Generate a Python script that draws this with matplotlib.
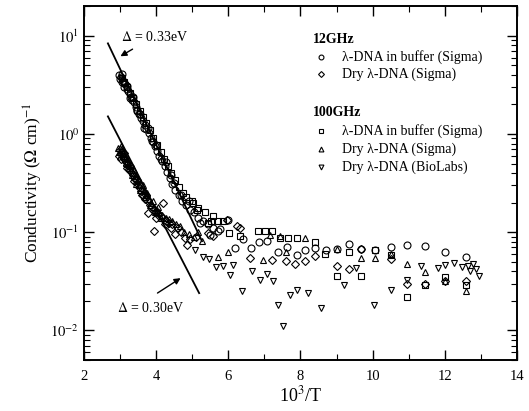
import matplotlib
matplotlib.use('Agg')
import matplotlib.pyplot as plt

plt.rcParams['font.family'] = ['Liberation Serif', 'DejaVu Serif']
plt.rcParams['mathtext.fontset'] = 'stix'

# 12GHz, lambda-DNA in buffer (Sigma) - circles
buf12_x = [2.98, 3.02, 3.05, 3.08, 3.11, 3.14, 3.18, 3.22, 3.26, 3.30, 3.34, 3.38,
           3.43, 3.48, 3.53, 3.58, 3.63, 3.68, 3.73, 3.79, 3.85, 3.91, 3.97, 4.03,
           4.09, 4.16, 4.23, 4.30, 4.37, 4.45, 4.53, 4.62, 4.72, 4.82, 4.94, 5.04,
           5.16, 5.21, 5.29, 5.43, 5.49, 5.57, 5.72, 5.77, 6.00, 6.18, 6.40, 6.64,
           6.85, 7.06, 7.38, 7.62, 7.89, 8.12, 8.40, 8.70, 9.00, 9.34, 9.69, 10.08,
           10.50, 10.96, 11.45, 12.00, 12.60,
           3.00, 3.06, 3.12, 3.20, 3.28, 3.36, 3.46, 3.56, 3.66, 3.76, 3.88, 4.00,
           4.13, 4.26, 4.40, 4.50, 4.70, 4.90]
buf12_y = [4.0, 3.8, 4.1, 3.5, 3.3, 3.2, 2.9, 2.75, 2.55, 2.4, 2.2, 2.1,
           1.9, 1.75, 1.6, 1.45, 1.35, 1.22, 1.12, 1.02, 0.92, 0.83, 0.75, 0.67,
           0.60, 0.53, 0.47, 0.41, 0.36, 0.31, 0.27, 0.24, 0.21, 0.19, 0.17, 0.16,
           0.14, 0.123, 0.13, 0.12, 0.093, 0.11, 0.103, 0.108, 0.134, 0.069, 0.085, 0.069,
           0.08, 0.081, 0.063, 0.07, 0.059, 0.066, 0.069, 0.066, 0.067, 0.076, 0.068, 0.066,
           0.070, 0.074, 0.072, 0.063, 0.056,
           3.6, 3.4, 3.0, 3.1, 2.3, 2.4, 1.7, 1.6, 1.15, 1.15, 0.85, 0.78,
           0.55, 0.52, 0.38, 0.32, 0.24, 0.21]

# 12GHz, dry lambda-DNA (Sigma) - diamonds
dry12_x = [2.97, 3.00, 3.04, 3.08, 3.12, 3.16, 3.20, 3.25, 3.30, 3.35, 3.40, 3.46,
           3.52, 3.58, 3.64, 3.70, 3.77, 3.78, 3.84, 3.91, 3.94, 3.98, 4.05, 4.12,
           4.19, 4.20, 4.27, 4.35, 4.43, 4.52, 4.60, 4.70, 4.80, 4.84, 4.95, 5.10,
           5.44, 5.58, 5.95, 6.23, 6.32, 6.60, 7.20, 7.61, 7.84, 8.12, 8.40, 9.00,
           9.34, 9.69, 10.50, 10.96, 11.45, 12.02, 12.60,
           3.02, 3.10, 3.18, 3.27, 3.37, 3.48, 3.60, 3.72, 3.88, 4.00, 4.24, 4.40]
dry12_y = [0.60, 0.68, 0.62, 0.58, 0.55, 0.52, 0.48, 0.44, 0.41, 0.38, 0.35, 0.32,
           0.29, 0.26, 0.24, 0.22, 0.21, 0.157, 0.19, 0.17, 0.102, 0.16, 0.15, 0.145,
           0.20, 0.14, 0.13, 0.125, 0.12, 0.095, 0.11, 0.10, 0.087, 0.074, 0.085, 0.09,
           0.099, 0.091, 0.134, 0.115, 0.11, 0.055, 0.052, 0.051, 0.048, 0.051, 0.057, 0.045,
           0.042, 0.068, 0.053, 0.030, 0.030, 0.032, 0.032,
           0.55, 0.64, 0.45, 0.47, 0.33, 0.34, 0.24, 0.24, 0.18, 0.14, 0.12, 0.11]

# 100GHz, lambda-DNA in buffer (Sigma) - squares
buf100_x = [3.06, 3.12, 3.20, 3.28, 3.36, 3.45, 3.54, 3.63, 3.72, 3.82, 3.92, 4.02,
            4.12, 4.22, 4.32, 4.42, 4.52, 4.62, 4.75, 4.83, 4.98, 5.02, 5.12, 5.16,
            5.34, 5.43, 5.53, 5.57, 5.71, 5.86, 6.03, 6.32, 6.83, 7.01, 7.20, 7.43,
            7.66, 7.89, 8.40, 8.68, 9.02, 9.34, 9.69, 10.08, 10.50, 10.96, 11.45, 12.02,
            12.60]
buf100_y = [3.7, 3.4, 3.0, 2.6, 2.3, 2.0, 1.7, 1.5, 1.3, 1.1, 0.92, 0.78,
            0.66, 0.56, 0.47, 0.40, 0.34, 0.29, 0.25, 0.23, 0.21, 0.20, 0.17, 0.175,
            0.16, 0.123, 0.129, 0.145, 0.13, 0.129, 0.099, 0.091, 0.103, 0.103, 0.103, 0.087,
            0.087, 0.087, 0.079, 0.06, 0.036, 0.063, 0.036, 0.066, 0.059, 0.022, 0.029, 0.035,
            0.029]

# 100GHz, dry lambda-DNA (Sigma) - up triangles
dry100_x = [2.95, 2.98, 3.01, 3.04, 3.07, 3.10, 3.14, 3.18, 3.22, 3.26, 3.31, 3.36,
            3.41, 3.47, 3.53, 3.59, 3.65, 3.72, 3.79, 3.86, 3.93, 4.01, 4.09, 4.17,
            4.26, 4.35, 4.45, 4.55, 4.66, 4.78, 4.92, 5.06, 5.17, 5.26, 5.72, 6.00,
            6.97, 7.15, 7.43, 7.61, 8.12, 9.00, 9.69, 10.08, 10.50, 10.96, 11.45, 12.02,
            12.60,
            3.03, 3.06, 3.12, 3.16, 3.20, 3.24, 3.29, 3.33, 3.38, 3.44, 3.50, 3.56,
            3.62, 3.68, 3.75, 3.82, 3.90, 3.97, 4.05, 4.13]
dry100_y = [0.72, 0.66, 0.75, 0.69, 0.64, 0.60, 0.57, 0.53, 0.50, 0.47, 0.43, 0.40,
            0.37, 0.33, 0.30, 0.28, 0.26, 0.24, 0.22, 0.20, 0.18, 0.17, 0.16, 0.15,
            0.14, 0.135, 0.13, 0.12, 0.115, 0.10, 0.095, 0.09, 0.10, 0.081, 0.056, 0.063,
            0.052, 0.094, 0.091, 0.063, 0.087, 0.067, 0.055, 0.055, 0.060, 0.048, 0.039, 0.032,
            0.025,
            0.62, 0.72, 0.62, 0.51, 0.56, 0.45, 0.48, 0.38, 0.43, 0.31, 0.35, 0.27,
            0.30, 0.23, 0.25, 0.19, 0.21, 0.16, 0.18, 0.14]

# 100GHz, dry lambda-DNA (BioLabs) - down triangles
bio100_x = [5.07, 5.30, 5.46, 5.67, 5.86, 6.04, 6.14, 6.37, 6.65, 6.88, 7.06, 7.24,
            7.38, 7.52, 7.71, 7.89, 8.21, 8.58, 9.21, 9.55, 10.04, 10.52, 10.96, 11.34,
            11.81, 12.00, 12.25, 12.49, 12.65, 12.70, 12.78, 12.87, 12.94]
bio100_y = [0.066, 0.056, 0.054, 0.044, 0.045, 0.037, 0.046, 0.025, 0.040, 0.033, 0.038, 0.032,
            0.018, 0.011, 0.023, 0.026, 0.024, 0.017, 0.029, 0.043, 0.018, 0.026, 0.033, 0.045,
            0.043, 0.046, 0.049, 0.044, 0.045, 0.040, 0.047, 0.042, 0.036]

# activation fits (end points)
fit33_x = [2.66, 5.27]
fit33_y = [8.36, 0.081]
fit30_x = [2.66, 5.19]
fit30_y = [1.51, 0.024]

fig = plt.figure(figsize=(5.29, 4.11), dpi=100)
ax = fig.add_axes([0.159, 0.124, 0.818, 0.861])

mk = dict(linestyle='none', mfc='none', mec='black', mew=0.8, ms=5)
ax.plot(buf12_x, buf12_y, marker='o', **mk)
ax.plot(dry12_x, dry12_y, marker='D', **dict(mk, ms=4.2))
ax.plot(buf100_x, buf100_y, marker='s', **dict(mk, ms=4.5))
ax.plot(dry100_x, dry100_y, marker='^', **mk)
ax.plot(bio100_x, bio100_y, marker='v', **mk)

ax.plot(fit33_x, fit33_y, color='black', lw=1.3)
ax.plot(fit30_x, fit30_y, color='black', lw=1.3)

arrow = dict(arrowstyle='-|>', color='black', lw=1.0, mutation_scale=9)
ax.annotate('', xy=(2.94, 5.98), xytext=(3.41, 7.55), arrowprops=arrow)
ax.annotate('', xy=(4.74, 0.0353), xytext=(3.97, 0.0232), arrowprops=arrow)
ax.text(3.02, 9.8, r'$\Delta$ = 0.33eV', fontsize=10, va='center')
ax.text(2.91, 0.0171, r'$\Delta$ = 0.30eV', fontsize=10, va='center')

ax.set_yscale('log')
ax.set_xlim(2, 14)
ax.set_ylim(0.005, 20)
ax.set_xticks([2, 4, 6, 8, 10, 12, 14])
ax.set_xticks([3, 5, 7, 9, 11, 13], minor=True)
ax.set_yticks([0.01, 0.1, 1, 10])
ax.set_yticklabels([r'$10^{-2}$', r'$10^{-1}$', r'$10^{0}$', r'$10^{1}$'])
ax.tick_params(which='both', direction='in', top=True, right=True, labelsize=10.5)
ax.tick_params(axis='x', which='both', pad=7)
ax.tick_params(which='major', length=7, width=1.0)
ax.tick_params(which='minor', length=4, width=0.8)
for s in ax.spines.values():
    s.set_linewidth(1.4)

ax.set_xlabel(r'10$^3$/T', fontsize=13, labelpad=2)
ax.set_ylabel(r'Conductivity ($\Omega$ cm)$^{-1}$', fontsize=12.5, labelpad=4)

# legend drawn by hand, two groups with bold headers
tr = ax.transAxes
lx_mark, lx_text = 0.548, 0.597
rows = [(0.907, None, '12GHz'), (0.857, 'o', 'λ-DNA in buffer (Sigma)'),
        (0.807, 'D', 'Dry λ-DNA (Sigma)'),
        (0.699, None, '100GHz'), (0.648, 's', 'λ-DNA in buffer (Sigma)'),
        (0.597, '^', 'Dry λ-DNA (Sigma)'), (0.546, 'v', 'Dry λ-DNA (BioLabs)')]
for yy, m, label in rows:
    if m is None:
        ax.text(lx_mark - 0.02, yy, label, transform=tr, fontsize=10,
                fontweight='bold', va='center')
    else:
        ax.plot([lx_mark], [yy], marker=m, transform=tr, linestyle='none',
                mfc='none', mec='black', mew=0.8, ms=3.5 if m != 'D' else 3)
        ax.text(lx_text, yy, label, transform=tr, fontsize=10, va='center')

fig.savefig('out.png', dpi=100)
